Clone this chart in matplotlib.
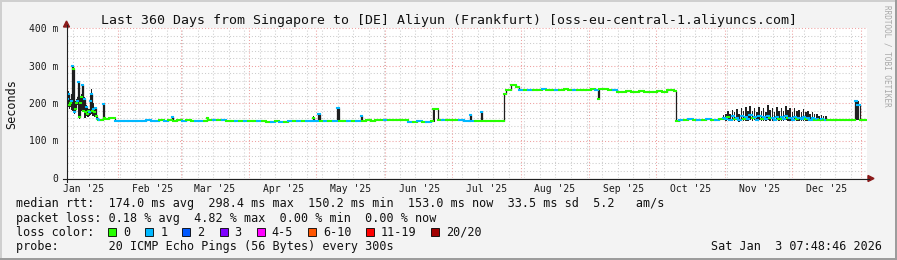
import numpy as np
import matplotlib
matplotlib.use("Agg")
import matplotlib.pyplot as plt
from matplotlib.collections import LineCollection
from matplotlib.patches import Rectangle, Polygon
from matplotlib.lines import Line2D

plt.rcParams['font.family'] = ['DejaVu Sans Mono']

# ---------------- data (time in days since 2025-01-01) ----------------
t = [7.90, 8.35, 8.80, 9.25, 9.70, 10.15, 10.60, 11.05, 11.50, 11.95,
     12.40, 12.85, 13.30, 13.75, 14.20, 14.65, 15.10, 15.55, 16.00, 16.45,
     16.90, 17.35, 17.80, 18.25, 18.70, 19.15, 19.60, 20.05, 20.50, 20.95,
     21.40, 21.85, 22.50, 23.30, 24.10, 24.55, 25.00, 27.00, 29.50, 31.50,
     33.50, 35.50, 37.50, 39.50, 41.50, 43.50, 45.50, 47.50, 49.50, 51.50,
     53.50, 55.00, 55.50, 57.50, 59.50, 61.50, 63.50, 65.50, 67.50, 69.50,
     70.80, 71.50, 73.50, 75.50, 77.50, 79.50, 81.50, 83.50, 85.50, 87.50,
     89.50, 91.50, 93.50, 95.50, 97.50, 99.50, 101.50, 103.50, 105.50, 107.50,
     109.50, 111.50, 113.50, 115.50, 117.50, 118.50, 119.20, 121.00, 121.60, 123.50,
     125.50, 127.50, 129.60, 130.20, 132.00, 134.00, 136.00, 138.00, 140.00, 140.60,
     142.50, 144.50, 146.50, 148.50, 150.50, 152.50, 154.50, 156.50, 158.50, 160.50,
     161.50, 163.50, 165.50, 167.50, 169.50, 171.50, 172.60, 174.90, 176.50, 178.50,
     180.50, 182.50, 184.50, 186.50, 188.60, 189.20, 189.80, 191.50, 194.00, 194.60,
     196.50, 198.50, 200.50, 202.50, 204.20, 204.70, 205.40, 207.50, 210.00, 211.30,
     213.50, 215.50, 217.50, 219.50, 221.50, 223.50, 225.50, 227.50, 229.50, 231.50,
     233.50, 235.50, 237.50, 239.50, 241.50, 243.50, 245.50, 246.70, 247.30, 249.50,
     251.50, 253.50, 255.50, 257.50, 259.50, 261.50, 263.50, 265.50, 267.50, 269.50,
     271.50, 273.50, 275.50, 277.90, 279.50, 281.00, 282.10, 283.50, 285.50, 287.50,
     289.50, 291.50, 293.50, 295.50, 297.50, 299.50, 301.50, 303.00, 304, 305,
     306, 307, 308, 309, 310, 311, 312, 313, 314, 315,
     316, 317, 318, 319, 320, 321, 322, 323, 324, 325,
     326, 327, 328, 329, 330, 331, 332, 333, 334, 335,
     336, 337, 338, 339, 340, 341, 342, 343, 344, 345,
     346, 347, 348, 349, 350, 352, 354, 356, 358, 360,
     362.5, 363.5, 364.8, 366.0, 367.5]

median_ms = [210, 225, 195, 200, 205, 298, 292, 175, 185, 200,
             205, 255, 162, 200, 215, 248, 180, 210, 175, 190,
             170, 180, 175, 205, 225, 180, 185, 175, 188, 165,
             157, 156, 155, 156, 198, 160, 158, 159, 153, 153,
             153, 153, 153, 153, 153, 154, 153, 153, 154, 153,
             154, 162, 153, 154, 153, 154, 153, 152, 153, 153,
             159, 154, 156, 156, 155, 153, 153, 152, 153, 152,
             153, 152, 153, 152, 150, 150, 151, 150, 150, 152,
             152, 153, 152, 151, 152, 160, 152, 170, 153, 152,
             151, 152, 186, 152, 152, 153, 152, 151, 165, 153,
             154, 153, 156, 156, 156, 156, 156, 156, 155, 156,
             150, 150, 151, 150, 150, 151, 185, 155, 155, 156,
             155, 156, 154, 153, 153, 168, 153, 153, 177, 153,
             152, 152, 152, 153, 153, 223, 236, 247, 243, 236,
             236, 234, 235, 236, 237, 236, 235, 236, 236, 237,
             236, 236, 235, 236, 236, 237, 236, 212, 238, 237,
             236, 234, 230, 230, 231, 230, 230, 231, 230, 230,
             230, 231, 230, 234, 236, 231, 153, 156, 155, 157,
             155, 156, 155, 157, 155, 156, 157, 160, 158, 162,
             156, 165, 158, 160, 155, 166, 158, 162, 157, 168,
             160, 163, 156, 165, 158, 162, 157, 166, 159, 161,
             156, 164, 158, 163, 157, 165, 159, 160, 156, 163,
             158, 161, 157, 162, 158, 160, 156, 159, 156, 158,
             155, 157, 155, 156, 155, 155, 154, 155, 155, 155,
             205, 195, 155, 155, 155]

loss_idx = [1, 1, 0, 0, 1, 1, 0, 1, 0, 0,
            1, 1, 0, 0, 0, 1, 0, 1, 0, 1,
            0, 0, 1, 1, 1, 0, 1, 0, 1, 0,
            1, 0, 1, 0, 1, 0, 0, 0, 1, 1,
            1, 1, 1, 1, 1, 1, 1, 1, 0, 1,
            0, 1, 0, 0, 1, 0, 0, 1, 1, 0,
            0, 0, 1, 0, 1, 0, 0, 1, 0, 1,
            0, 0, 1, 0, 0, 1, 0, 1, 0, 1,
            0, 1, 0, 1, 1, 0, 1, 1, 0, 1,
            0, 1, 1, 0, 0, 1, 0, 1, 1, 0,
            0, 0, 0, 0, 1, 0, 0, 0, 0, 0,
            1, 0, 1, 0, 1, 0, 0, 0, 1, 0,
            0, 0, 1, 1, 1, 1, 1, 0, 1, 0,
            0, 0, 0, 0, 0, 0, 0, 0, 0, 1,
            0, 1, 0, 0, 1, 0, 0, 1, 0, 0,
            0, 1, 0, 0, 0, 0, 1, 0, 0, 0,
            0, 1, 0, 0, 0, 0, 0, 0, 0, 0,
            0, 0, 0, 0, 0, 0, 0, 1, 0, 1,
            0, 1, 0, 1, 0, 1, 0, 1, 1, 0,
            1, 1, 0, 1, 1, 1, 0, 1, 1, 1,
            0, 1, 1, 1, 0, 1, 1, 1, 0, 1,
            1, 1, 0, 1, 1, 1, 0, 1, 1, 1,
            0, 1, 1, 1, 0, 1, 1, 1, 0, 1,
            0, 1, 0, 1, 0, 0, 0, 0, 0, 0,
            1, 1, 0, 0, 0]

N = None
smoke_lo = [185, 190, 185, 190, 182, 178, 175, 172, 178, 190,
            195, 160, 158, 175, 180, 175, 175, 160, 160, 165,
            162, 163, 165, 168, 170, 165, 165, 162, 162, 158,
            156, N, N, N, 158, 158, N, N, N, N,
            N, N, N, N, N, N, N, N, N, N,
            N, 153, N, N, N, N, N, N, N, N,
            152, N, N, N, N, N, N, N, N, N,
            N, N, N, N, N, N, N, N, N, N,
            N, N, N, N, N, 152, N, 152, N, N,
            N, N, 152, N, N, N, N, N, 153, N,
            N, N, N, N, N, N, N, N, N, N,
            N, N, N, N, N, N, 150, N, N, N,
            N, N, N, N, N, 153, N, N, 153, N,
            N, N, N, N, N, N, N, N, N, N,
            N, N, N, N, N, N, N, N, N, N,
            N, N, N, N, N, N, N, 212, N, N,
            N, N, N, N, N, N, N, N, N, N,
            N, N, N, N, N, N, N, N, N, N,
            N, N, N, N, N, N, N, 155, 153, 154,
            152, 155, 153, 154, 150, 155, 152, 153, 152, 155,
            153, 154, 151, 154, 152, 153, 152, 155, 152, 153,
            151, 154, 152, 153, 152, 154, 152, 153, 151, 153,
            152, 153, 152, 153, 152, 153, 151, 152, 152, 153,
            152, 152, 152, 153, N, N, N, N, N, N,
            155, 155, N, N, N]

smoke_hi = [230, 232, 215, 212, 225, 300, 296, 210, 205, 210,
            215, 258, 250, 215, 225, 250, 245, 215, 205, 195,
            190, 185, 185, 228, 238, 200, 200, 190, 190, 188,
            165, N, N, N, 200, 198, N, N, N, N,
            N, N, N, N, N, N, N, N, N, N,
            N, 163, N, N, N, N, N, N, N, N,
            161, N, N, N, N, N, N, N, N, N,
            N, N, N, N, N, N, N, N, N, N,
            N, N, N, N, N, 165, N, 170, N, N,
            N, N, 187, N, N, N, N, N, 165, N,
            N, N, N, N, N, N, N, N, N, N,
            N, N, N, N, N, N, 186, N, N, N,
            N, N, N, N, N, 168, N, N, 177, N,
            N, N, N, N, N, N, N, N, N, N,
            N, N, N, N, N, N, N, N, N, N,
            N, N, N, N, N, N, N, 236, N, N,
            N, N, N, N, N, N, N, N, N, N,
            N, N, N, N, N, N, N, N, N, N,
            N, N, N, N, N, N, N, 168, 172, 178,
            170, 182, 175, 185, 170, 188, 178, 190, 180, 192,
            178, 186, 175, 190, 180, 188, 176, 195, 182, 186,
            176, 190, 180, 188, 178, 192, 182, 186, 175, 186,
            178, 182, 176, 184, 176, 180, 172, 175, 170, 172,
            166, 168, 165, 166, N, N, N, N, N, N,
            208, 205, N, N, N]

loss_colors = ['#26ff00', '#00b8ff', '#0059ff', '#7e00ff',
               '#ff00ff', '#ff5500', '#ff0000', '#a10000']
loss_labels = ['0', '1', '2', '3', '4-5', '6-10', '11-19', '20/20']

month_starts = [31, 59, 90, 120, 151, 181, 212, 243, 273, 304, 334, 365]
month_label_pos = [15.5, 46.5, 74.5, 105.5, 135.5, 166.5, 196.5, 227.5, 258.5, 288.5, 319.5, 349.5]
month_labels = ["Jan '25", "Feb '25", "Mar '25", "Apr '25", "May '25", "Jun '25",
                "Jul '25", "Aug '25", "Sep '25", "Oct '25", "Nov '25", "Dec '25"]
week_first = 10.7

title = "Last 360 Days from Singapore to [DE] Aliyun (Frankfurt) [oss-eu-central-1.aliyuncs.com]"
legend_rows = [
    "median rtt:  174.0 ms avg  298.4 ms max  150.2 ms min  153.0 ms now  33.5 ms sd  5.2   am/s",
    "packet loss: 0.18 % avg  4.82 % max  0.00 % min  0.00 % now",
    "loss color:",
    "probe:       20 ICMP Echo Pings (56 Bytes) every 300s",
]
stamp = "Sat Jan  3 07:48:46 2026"

# ---------------- figure ----------------
W, H = 897, 260
fig = plt.figure(figsize=(W / 100, H / 100), dpi=100, facecolor='#f3f3f3')


def fx(x):
    return x / W


def fy(y):
    return 1 - y / H


ax = fig.add_axes([fx(67), fy(178), 800 / W, 150 / H])
ax.set_facecolor('white')
ax.set_xlim(7.9, 367.9)
ax.set_ylim(0, 400)
for s in ax.spines.values():
    s.set_visible(False)

dot = (0, (1, 2))
for v in range(20, 400, 20):
    if v % 100:
        ax.axhline(v, color='#cccccc', lw=0.75, ls=dot, zorder=0)
wk = week_first
while wk < 367.9:
    ax.axvline(wk, color='#cccccc', lw=0.75, ls=dot, zorder=0)
    wk += 7
for v in (100, 200, 300, 400):
    ax.axhline(v, color='#eea0a0', lw=0.75, ls=dot, zorder=0.5, clip_on=False)
for m in month_starts:
    ax.axvline(m, color='#eea0a0', lw=0.75, ls=dot, zorder=0.5)

tt = np.array(t, dtype=float)
med = np.array(median_ms, dtype=float)
lo = np.array([np.nan if v is None else v for v in smoke_lo], dtype=float)
hi = np.array([np.nan if v is None else v for v in smoke_hi], dtype=float)
widths = np.minimum(np.diff(tt), 0.7)
has = ~np.isnan(lo[:-1])
ax.bar(tt[:-1][has], (hi - lo)[:-1][has], bottom=lo[:-1][has], width=widths[has],
       align='edge', color='#222222', lw=0, zorder=2)

# connectors (vertical jumps)
conn = [[(tt[i + 1], med[i]), (tt[i + 1], med[i + 1])] for i in range(len(tt) - 1)]
ax.add_collection(LineCollection(conn, colors='#1e1e1e', linewidths=0.9, zorder=2.5))
# median segments coloured by loss
segs = [[(tt[i], med[i]), (tt[i + 1], med[i])] for i in range(len(tt) - 1)]
cols = [loss_colors[loss_idx[i]] for i in range(len(tt) - 1)]
ax.add_collection(LineCollection(segs, colors=cols, linewidths=1.5, zorder=3,
                                 capstyle='projecting'))

ax.set_yticks([0, 100, 200, 300, 400], labels=['0', '100 m', '200 m', '300 m', '400 m'])
ax.set_xticks(month_label_pos, labels=month_labels)
ax.tick_params(axis='y', length=0, pad=6, labelsize=7, labelcolor='#1a1a1a')
ax.tick_params(axis='x', length=0, pad=4, labelsize=7, labelcolor='#1a1a1a')

# axes lines and arrows
fig.add_artist(Line2D([fx(63), fx(869)], [fy(178.5), fy(178.5)], color='#202020', lw=0.8))
fig.add_artist(Line2D([fx(66.5), fx(66.5)], [fy(182), fy(25)], color='#202020', lw=0.8))
fig.add_artist(Polygon([(fx(868), fy(175.5)), (fx(874), fy(178.5)), (fx(868), fy(181.5))],
                       closed=True, color='#8b1a1a'))
fig.add_artist(Polygon([(fx(63.5), fy(27)), (fx(66.5), fy(21)), (fx(69.5), fy(27))],
                       closed=True, color='#8b1a1a'))

# texts
fig.text(fx(448.5), fy(24), title, ha='center', va='baseline', fontsize=9.5, color='#111111')
fig.text(fx(12), fy(104), 'Seconds', rotation=90, ha='center', va='center', fontsize=8.5,
         color='#111111')
baselines = [207.5, 221.7, 235.9, 250.1]
for row, b in zip(legend_rows, baselines):
    fig.text(fx(16), fy(b), row, ha='left', va='baseline', fontsize=8.5, color='#111111')
fig.text(fx(882), fy(250.1), stamp, ha='right', va='baseline', fontsize=8.5, color='#111111')

char_w = 7.07
bx = 108.3
for c, lab in zip(loss_colors, loss_labels):
    fig.add_artist(Rectangle((fx(bx), fy(236)), 8 / W, 8 / H, facecolor=c,
                             edgecolor='#000000', lw=0.6))
    fig.text(fx(bx + 15), fy(235.9), lab, ha='left', va='baseline', fontsize=8.5,
             color='#111111')
    bx += 15 + len(lab) * char_w + 15

fig.text(fx(887), fy(5), 'RRDTOOL / TOBI OETIKER', rotation=270, ha='center', va='top',
         fontsize=5.5, color='#a8a8a8')

# frame shading
fig.add_artist(Rectangle((0, fy(2)), 1, 2 / H, facecolor='#cfcfcf', lw=0))
fig.add_artist(Rectangle((0, 0), 2 / W, 1, facecolor='#cfcfcf', lw=0))
fig.add_artist(Rectangle((0, 0), 1, 2 / H, facecolor='#9c9c9c', lw=0))
fig.add_artist(Rectangle((fx(895), 0), 2 / W, 1, facecolor='#9c9c9c', lw=0))

fig.savefig('out.png', dpi=100, facecolor=fig.get_facecolor())
